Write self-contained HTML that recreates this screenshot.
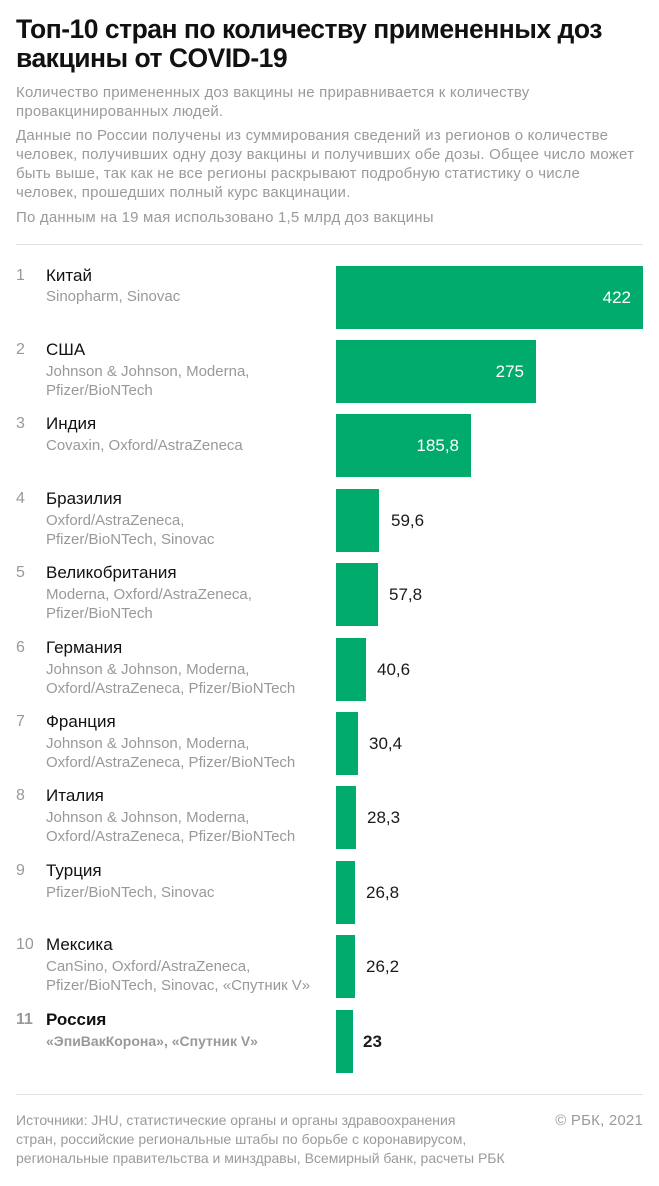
<!DOCTYPE html>
<html><head><meta charset="utf-8"><style>
*{margin:0;padding:0;box-sizing:border-box}
body{width:659px;height:1186px;background:#fff;font-family:"Liberation Sans",sans-serif;position:relative;overflow:hidden;color:#1a1a1a}
.t{position:absolute;left:16px;top:15px;font-size:26.5px;font-weight:bold;line-height:29px;letter-spacing:-0.5px;color:#111}
.p{position:absolute;left:16px;font-size:15px;line-height:19px;color:#9a9a9a;width:640px;letter-spacing:0.2px;white-space:nowrap}
.hr{position:absolute;left:16px;width:627px;height:1px;background:#e2e2e2}
.rank{position:absolute;left:16px;font-size:16px;color:#999}
.nm{position:absolute;left:46px;font-size:17px;color:#111}
.sub{position:absolute;left:46px;font-size:15px;line-height:19px;color:#999;white-space:nowrap}
.bar{position:absolute;left:336px;height:63px;background:#00ab6c}
.v{position:absolute;font-size:17px;line-height:63px}
</style></head><body>
<div class="t">Топ-10 стран по количеству примененных доз<br>вакцины от COVID-19</div>
<div class="p" style="top:83px">Количество примененных доз вакцины не приравнивается к количеству<br>провакцинированных людей.</div>
<div class="p" style="top:126px">Данные по России получены из суммирования сведений из регионов о количестве<br>человек, получивших одну дозу вакцины и получивших обе дозы. Общее число может<br>быть выше, так как не все регионы раскрывают подробную статистику о числе<br>человек, прошедших полный курс вакцинации.</div>
<div class="p" style="top:208px">По данным на 19 мая использовано 1,5 млрд доз вакцины</div>
<div class="hr" style="top:244px"></div>

<div class="rank" style="top:267px">1</div><div class="nm" style="top:266px">Китай</div><div class="sub" style="top:287px">Sinopharm, Sinovac</div>
<div class="bar" style="top:266px;width:307px"></div><div class="v" style="top:266px;left:336px;width:295px;text-align:right;color:#fff">422</div>

<div class="rank" style="top:341px">2</div><div class="nm" style="top:340px">США</div><div class="sub" style="top:362px">Johnson &amp; Johnson, Moderna,<br>Pfizer/BioNTech</div>
<div class="bar" style="top:340px;width:200px"></div><div class="v" style="top:340px;left:336px;width:188px;text-align:right;color:#fff">275</div>

<div class="rank" style="top:415px">3</div><div class="nm" style="top:414px">Индия</div><div class="sub" style="top:436px">Covaxin, Oxford/AstraZeneca</div>
<div class="bar" style="top:414px;width:135px"></div><div class="v" style="top:414px;left:336px;width:123px;text-align:right;color:#fff">185,8</div>

<div class="rank" style="top:490px">4</div><div class="nm" style="top:489px">Бразилия</div><div class="sub" style="top:511px">Oxford/AstraZeneca,<br>Pfizer/BioNTech, Sinovac</div>
<div class="bar" style="top:489px;width:43px"></div><div class="v" style="top:489px;left:391px">59,6</div>

<div class="rank" style="top:564px">5</div><div class="nm" style="top:563px">Великобритания</div><div class="sub" style="top:585px">Moderna, Oxford/AstraZeneca,<br>Pfizer/BioNTech</div>
<div class="bar" style="top:563px;width:42px"></div><div class="v" style="top:563px;left:389px">57,8</div>

<div class="rank" style="top:639px">6</div><div class="nm" style="top:638px">Германия</div><div class="sub" style="top:660px">Johnson &amp; Johnson, Moderna,<br>Oxford/AstraZeneca, Pfizer/BioNTech</div>
<div class="bar" style="top:638px;width:30px"></div><div class="v" style="top:638px;left:377px">40,6</div>

<div class="rank" style="top:713px">7</div><div class="nm" style="top:712px">Франция</div><div class="sub" style="top:734px">Johnson &amp; Johnson, Moderna,<br>Oxford/AstraZeneca, Pfizer/BioNTech</div>
<div class="bar" style="top:712px;width:22px"></div><div class="v" style="top:712px;left:369px">30,4</div>

<div class="rank" style="top:787px">8</div><div class="nm" style="top:786px">Италия</div><div class="sub" style="top:808px">Johnson &amp; Johnson, Moderna,<br>Oxford/AstraZeneca, Pfizer/BioNTech</div>
<div class="bar" style="top:786px;width:20px"></div><div class="v" style="top:786px;left:367px">28,3</div>

<div class="rank" style="top:862px">9</div><div class="nm" style="top:861px">Турция</div><div class="sub" style="top:883px">Pfizer/BioNTech, Sinovac</div>
<div class="bar" style="top:861px;width:19px"></div><div class="v" style="top:861px;left:366px">26,8</div>

<div class="rank" style="top:936px">10</div><div class="nm" style="top:935px">Мексика</div><div class="sub" style="top:957px">CanSino, Oxford/AstraZeneca,<br>Pfizer/BioNTech, Sinovac, «Спутник V»</div>
<div class="bar" style="top:935px;width:19px"></div><div class="v" style="top:935px;left:366px">26,2</div>

<div class="rank" style="top:1011px;font-weight:bold">11</div><div class="nm" style="top:1010px;font-weight:bold">Россия</div><div class="sub" style="top:1032px;font-weight:bold;font-size:14px">«ЭпиВакКорона», «Спутник V»</div>
<div class="bar" style="top:1010px;width:17px"></div><div class="v" style="top:1010px;left:363px;font-weight:bold">23</div>

<div class="hr" style="top:1094px"></div>
<div class="p" style="top:1111px;font-size:14px;letter-spacing:0">Источники: JHU, статистические органы и органы здравоохранения<br>стран, российские региональные штабы по борьбе с коронавирусом,<br>региональные правительства и минздравы, Всемирный банк, расчеты РБК</div>
<div class="p" style="top:1111px;left:auto;right:16px;width:auto">© РБК, 2021</div>
</body></html>
